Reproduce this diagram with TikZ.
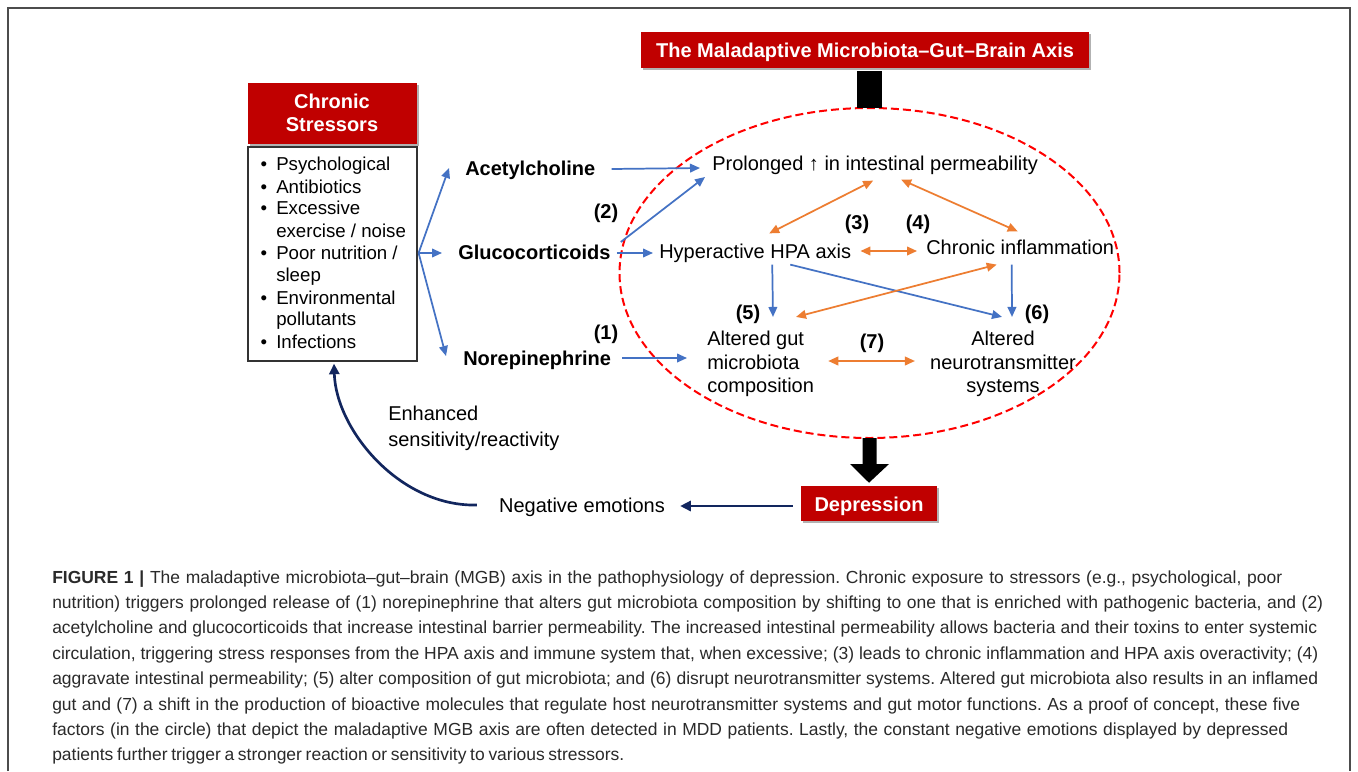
\documentclass[tikz,border=0pt]{standalone}
\usepackage{fontspec}
\setmainfont{Liberation Sans}
\usetikzlibrary{arrows.meta,calc,shapes.geometric,shadows}
\definecolor{boxred}{HTML}{C00000}
\definecolor{arrblue}{HTML}{4472C4}
\definecolor{arrorange}{HTML}{ED7D31}
\definecolor{navyblue}{HTML}{12265E}
\definecolor{ellred}{HTML}{FF0000}
\definecolor{captext}{HTML}{2A2A2A}
\begin{document}
\frenchspacing
\begin{tikzpicture}[x=0.75pt,y=-0.75pt,
  txt/.style={inner sep=0pt, text height=1.8ex, text depth=0pt, font=\fontsize{15}{18}\selectfont},
  btxt/.style={txt, font=\fontsize{15}{18}\selectfont\bfseries},
  ltxt/.style={inner sep=0pt, text height=1.85ex, text depth=0pt, font=\fontsize{14}{17}\selectfont},
  mtxt/.style={inner sep=0pt, font=\fontsize{15}{17.6}\selectfont},
  captxt/.style={inner sep=0pt, anchor=base west, text=captext, font=\fontsize{13.1}{15}\selectfont},
  redbox/.style={fill=boxred, text=white, font=\fontsize{15}{17.25}\selectfont\bfseries, inner sep=0pt,
    drop shadow={shadow xshift=1.5pt, shadow yshift=-1.5pt, fill=black, opacity=0.3}},
  oneline/.style={text height=2.2ex, text depth=0pt},
  bluearr/.style={draw=arrblue, line width=1.3pt, -{Triangle[length=7.5pt,width=6.5pt]}},
  orarr/.style={draw=arrorange, line width=1.3pt, {Triangle[length=7.5pt,width=6.5pt]}-{Triangle[length=7.5pt,width=6.5pt]}},
  navyarr/.style={draw=navyblue, line width=2pt, -{Triangle[length=8pt,width=7.5pt]}}
]
\useasboundingbox (0,0) rectangle (1358,771);
\fill[white] (0,0) rectangle (1358,771);
% frame
\draw[line width=1.2pt, black!70] (8,771) -- (8,8) -- (1350,8) -- (1350,771);

% red boxes
\node[redbox, oneline, minimum width=336pt, minimum height=27pt] (title) at (865,50) {The Maladaptive Microbiota–Gut–Brain Axis};
\node[redbox, align=center, minimum width=126.75pt, minimum height=45.75pt] (chronic) at (332,113) {Chronic\\Stressors};
\node[redbox, oneline, minimum width=102pt, minimum height=26.25pt] (dep) at (869,503.5) {Depression};

% stressor list
\node[draw=black!80, line width=0.9pt, fill=white, minimum width=126.75pt, minimum height=160.5pt, inner sep=0pt] (listbox) at (332.5,254) {};
\foreach \i/\y in {1/164,2/187,3/208,4/253,5/298,6/342}
  \node[ltxt] (bul\i) at (264,\y) {•};
\node[ltxt, anchor=west] (li1) at (276,164) {Psychological};
\node[ltxt, anchor=west] (li2) at (276,187) {Antibiotics};
\node[ltxt, anchor=west] (li3) at (276,208) {Excessive};
\node[ltxt, anchor=west] (li4) at (276,231) {exercise / noise};
\node[ltxt, anchor=west] (li5) at (276,253) {Poor nutrition /};
\node[ltxt, anchor=west] (li6) at (276,275) {sleep};
\node[ltxt, anchor=west] (li7) at (276,298) {Environmental};
\node[ltxt, anchor=west] (li8) at (276,319) {pollutants};
\node[ltxt, anchor=west] (li9) at (276,342) {Infections};

% mediators
\node[btxt, anchor=west] (ach) at (465,169) {Acetylcholine};
\node[btxt, anchor=west] (glu) at (458,253) {Glucocorticoids};
\node[btxt, anchor=west] (nor) at (463,359) {Norepinephrine};

% ellipse
\node[ellipse, draw=ellred, line width=1.5pt, dash pattern=on 6pt off 3pt, minimum width=375pt, minimum height=247.5pt, inner sep=0pt] (ell) at (869.5,273) {};

% inner nodes
\node[txt, anchor=west] (perm) at (712,164) {Prolonged ↑ in intestinal permeability};
\node[txt, anchor=west] (hpa) at (659,252) {Hyperactive HPA axis};
\node[txt, anchor=west] (infl) at (926,248) {Chronic inflammation};
\node[mtxt, align=left, anchor=west] (gut) at (707,364) {Altered gut\\microbiota\\composition};
\node[mtxt, align=center] (neuro) at (1003,364) {Altered\\neurotransmitter\\systems};

% number labels
\node[btxt] (n1) at (606,333) {(1)};
\node[btxt] (n2) at (606,212) {(2)};
\node[btxt] (n3) at (857,223) {(3)};
\node[btxt] (n4) at (918,223) {(4)};
\node[btxt] (n5) at (748,313) {(5)};
\node[btxt] (n6) at (1037,313) {(6)};
\node[btxt] (n7) at (872,342) {(7)};

% bottom nodes
\node[txt] (neg) at (582,506) {Negative emotions};
\node[mtxt, align=left, anchor=west, font=\fontsize{15}{19.5}\selectfont] (enh) at (388,428) {Enhanced\\sensitivity/reactivity};

% black connectors
\fill ($(ell.north)+(-12.5,1)$) rectangle ($(ell.north |- title.south)+(12.5,3)$);
\fill ($(ell.south)+(-7,-1)$) -- ($(ell.south)+(7,-1)$) -- ($(ell.south)+(7,25)$) -- ($(ell.south)+(19.5,25)$)
  -- ($(dep.north)+(0,-3)$) -- ($(ell.south)+(-19.5,25)$) -- ($(ell.south)+(-7,25)$) -- cycle;

% blue arrows from stressors
\draw[bluearr] ($(listbox.east)+(1,-1)$) -- ($(ach.west)+(-16,-1)$);
\draw[bluearr] ($(listbox.east)+(1,-1)$) -- ($(glu.west)+(-16,0)$);
\draw[bluearr] ($(listbox.east)+(1,-1)$) -- ($(nor.west)+(-17,-3)$);
% blue arrows into circle
\draw[bluearr] ($(ach.east)+(16,0)$) -- ($(perm.west)+(-12,4)$);
\draw[bluearr] ($(glu.east)+(10,-11)$) -- ($(perm.west)+(-7,13)$);
\draw[bluearr] ($(glu.east)+(6,0)$) -- ($(hpa.west)+(-6,1)$);
\draw[bluearr] ($(nor.east)+(11,-1)$) -- ($(gut.west)+(-20,-6)$);
% blue arrows inside
\draw[bluearr] ($(hpa.south)+(17,6)$) -- ($(gut.north west)+(66,-14)$);
\draw[bluearr] ($(hpa.south)+(35,6)$) -- ($(neuro.north)+(-1,-14)$);
\draw[bluearr] ($(infl.south)+(-8.5,10)$) -- ($(neuro.north)+(9,-14)$);
% orange double arrows
\draw[orarr] ($(hpa.north)+(14,-12)$) -- ($(perm.south)+(-2,10)$);
\draw[orarr] ($(perm.south)+(26,9)$) -- ($(infl.north)+(-2.5,-10)$);
\draw[orarr] ($(hpa.east)+(9,-1)$) -- ($(infl.west)+(-9,3)$);
\draw[orarr] ($(infl.south)+(-23.5,10)$) -- ($(gut.north west)+(89,-14)$);
\draw[orarr] ($(gut.east)+(14,-3)$) -- ($(neuro.west)+(-15,-3)$);

% navy feedback arrows
\draw[navyarr] ($(dep.west)+(-8,2.5)$) -- ($(neg.east)+(15,0)$);
\draw[navyarr] ($(neg.west)+(-22,-1)$) .. controls (400,507) and (336,430) .. ($(listbox.south)+(1.5,2)$);

% caption
\node[captxt] (cap1) at (52,583) {\makebox[922.5pt][s]{\textbf{FIGURE 1 |} The maladaptive microbiota–gut–brain (MGB) axis in the pathophysiology of depression. Chronic exposure to stressors (e.g., psychological, poor}};
\node[captxt] (cap2) at (52,608.4) {\makebox[953.25pt][s]{nutrition) triggers prolonged release of (1) norepinephrine that alters gut microbiota composition by shifting to one that is enriched with pathogenic bacteria, and (2)}};
\node[captxt] (cap3) at (52,633.8) {\makebox[948.75pt][s]{acetylcholine and glucocorticoids that increase intestinal barrier permeability. The increased intestinal permeability allows bacteria and their toxins to enter systemic}};
\node[captxt] (cap4) at (52,659.2) {\makebox[949.5pt][s]{circulation, triggering stress responses from the HPA axis and immune system that, when excessive; (3) leads to chronic inflammation and HPA axis overactivity; (4)}};
\node[captxt] (cap5) at (52,684.6) {\makebox[949.5pt][s]{aggravate intestinal permeability; (5) alter composition of gut microbiota; and (6) disrupt neurotransmitter systems. Altered gut microbiota also results in an inflamed}};
\node[captxt] (cap6) at (52,710) {\makebox[936pt][s]{gut and (7) a shift in the production of bioactive molecules that regulate host neurotransmitter systems and gut motor functions. As a proof of concept, these five}};
\node[captxt] (cap7) at (52,735.4) {\makebox[927pt][s]{factors (in the circle) that depict the maladaptive MGB axis are often detected in MDD patients. Lastly, the constant negative emotions displayed by depressed}};
\node[captxt] (cap8) at (52,760.8) {\makebox[429pt][s]{patients further trigger a stronger reaction or sensitivity to various stressors.}};
\end{tikzpicture}
\end{document}
